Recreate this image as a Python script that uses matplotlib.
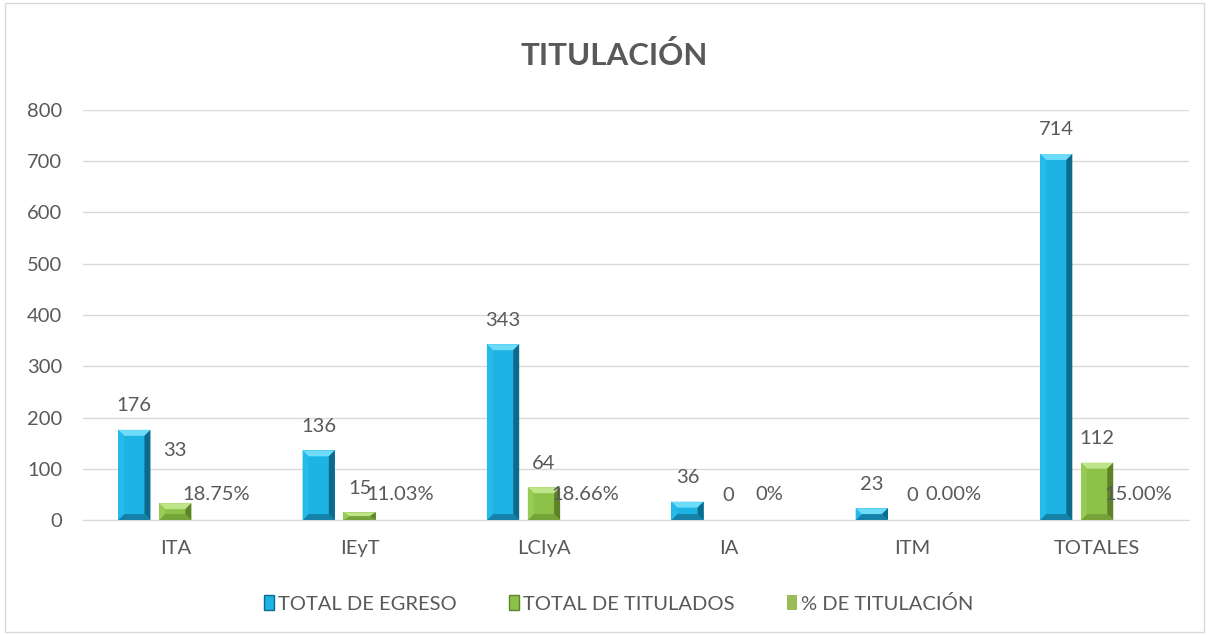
import matplotlib.pyplot as plt
from matplotlib.patches import Rectangle, Polygon
import numpy as np

plt.rcParams['font.family'] = ['Lato', 'DejaVu Sans']

categories = ['ITA', 'IEyT', 'LCIyA', 'IA', 'ITM', 'TOTALES']
egreso = [176, 136, 343, 36, 23, 714]
titulados = [33, 15, 64, 0, 0, 112]
porcentaje = [0.1875, 0.1103, 0.1866, 0.0, 0.0, 0.15]
pct_labels = ['18.75%', '11.03%', '18.66%', '0%', '0.00%', '15.00%']

txt = '#595959'
# center, top, right, bottom, left
blue_faces = ['#1DB3E5', '#6EDCF8', '#0E6A8C', '#1580A8', '#25BAEA']
green_faces = ['#8DC249', '#BFE489', '#5E8228', '#76A23A', '#98CB55']

fig = plt.figure(figsize=(12.09, 6.35), dpi=100)
fig.patches.append(Rectangle((0.004, 0.004), 0.992, 0.992, transform=fig.transFigure,
                             fill=False, edgecolor='#D9D9D9', linewidth=1))
ax = fig.add_axes([0.0687, 0.181, 0.915, 0.646])

x = np.arange(len(categories))
w = 0.175
off = 0.222

ax.set_xlim(-0.5, len(categories) - 0.5)
ax.set_ylim(0, 800)

# data units per pixel
ppx = 6 / (0.915 * 1209)
ppy = 800 / (0.646 * 635)


def bevel_bar(xs, vals, faces):
    bars = ax.bar(xs, vals, w, color=faces[0], zorder=3)
    for b in bars:
        x0, bw, h = b.get_x(), b.get_width(), b.get_height()
        if h <= 0:
            continue
        bx = min(6 * ppx, bw / 2)
        by = min(6 * ppy, h / 2)
        x1 = x0 + bw
        polys = [
            [(x0, h), (x1, h), (x1 - bx, h - by), (x0 + bx, h - by)],
            [(x1, h), (x1, 0), (x1 - bx, by), (x1 - bx, h - by)],
            [(x0, 0), (x1, 0), (x1 - bx, by), (x0 + bx, by)],
            [(x0, 0), (x0, h), (x0 + bx, h - by), (x0 + bx, by)],
        ]
        for p, c in zip(polys, faces[1:]):
            ax.add_patch(Polygon(p, closed=True, facecolor=c, edgecolor='none', zorder=4))
    return bars


bevel_bar(x - off, egreso, blue_faces)
bevel_bar(x, titulados, green_faces)
ax.bar(x + off, porcentaje, w, color='#9BBB59', zorder=3)

fs = 14.5
lab_off = 47
for xi, v in zip(x - off, egreso):
    ax.text(xi, v + lab_off, str(v), ha='center', va='center', fontsize=fs, color=txt)
# ITA label sits higher in the source to clear the percentage label
tit_extra = [56, 0, 0, 0, 0, 0]
for xi, v, e in zip(x, titulados, tit_extra):
    ax.text(xi, v + lab_off + e, str(v), ha='center', va='center', fontsize=fs,
            color=txt, zorder=6)
for xi, v, s in zip(x + off, porcentaje, pct_labels):
    ax.text(xi, v + 49, s, ha='center', va='center', fontsize=fs, color=txt, zorder=6)

ax.set_yticks(range(0, 801, 100))
ax.set_xticks(x)
ax.set_xticklabels(categories)
ax.tick_params(axis='both', length=0, labelsize=fs, colors=txt)
ax.tick_params(axis='x', pad=14)
ax.tick_params(axis='y', pad=15)
ax.grid(axis='y', color='#D9D9D9', linewidth=1, zorder=0)
for s in ['top', 'right', 'left']:
    ax.spines[s].set_visible(False)
ax.spines['bottom'].set_color('#D9D9D9')

fig.text(0.508, 0.913, 'TITULACIÓN', ha='center', va='center', fontsize=22.5,
         fontweight='bold', color=txt)

handles = [Rectangle((0, 0), 1, 1, facecolor=blue_faces[0], edgecolor=blue_faces[2]),
           Rectangle((0, 0), 1, 1, facecolor=green_faces[0], edgecolor=green_faces[2]),
           Rectangle((0, 0), 1, 1, facecolor='#9BBB59')]
fig.legend(handles, ['TOTAL DE EGRESO', 'TOTAL DE TITULADOS', '% DE TITULACIÓN'],
           loc='center', bbox_to_anchor=(0.512, 0.049), ncol=3, frameon=False,
           fontsize=fs, labelcolor=txt, handlelength=0.5, handleheight=0.75,
           handletextpad=0.2, columnspacing=2.6)

fig.savefig('out.png', dpi=100)
